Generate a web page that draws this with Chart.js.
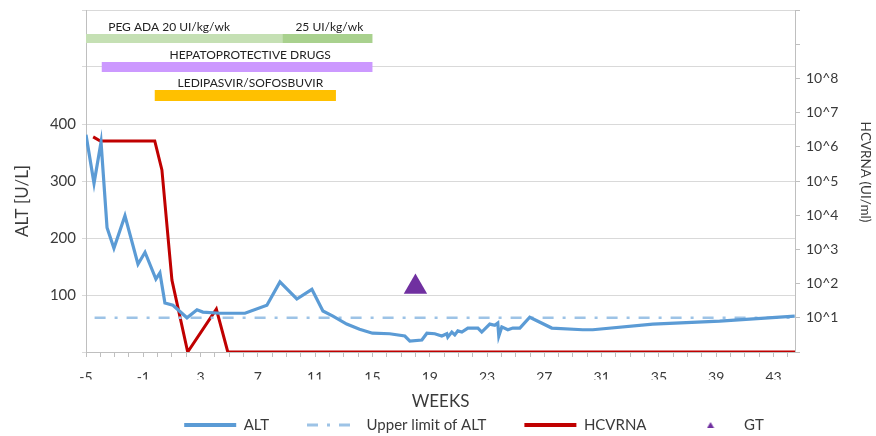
<!DOCTYPE html>
<html>
<head>
<meta charset="utf-8">
<script src="https://cdn.jsdelivr.net/npm/chart.js@4.4.1/dist/chart.umd.min.js"></script>
<style>
  html, body { margin: 0; padding: 0; background: #fff; }
  #wrap { width: 876px; height: 436px; }
</style>
</head>
<body>
<div id="wrap"><canvas id="chart" width="876" height="436"></canvas></div>
<script>
// ALT [U/L] by week
const altWeeks = [-5, -4.44, -3.95, -3.53, -3.05, -2.28, -1.37, -0.88, -0.12, 0.16, 0.51, 1.07, 2.05, 2.75,
  3.16, 4.35, 6.1, 7.63, 8.54, 9.72, 10.77, 11.54, 12.24, 13.2, 14.1, 15.0, 16.2, 17.26, 17.61, 18.45,
  18.8, 19.35, 19.84, 20.19, 20.26, 20.54, 20.75, 20.96, 21.24, 21.66, 22.36, 22.63, 23.19, 23.54, 23.75,
  23.82, 24.03, 24.45, 24.8, 25.29, 25.98, 27.52, 29.68, 30.38, 34.57, 39.24, 44.48];
const altValues = [381, 296, 368, 218, 182, 239, 154, 175, 128, 139, 86, 82, 60, 74,
  70, 68, 68, 82, 123, 93, 110, 72, 63, 49, 40, 33, 32, 28, 19, 21,
  33, 32, 28, 32, 26, 35, 30, 37, 35, 42, 42, 35, 49, 47, 51,
  28, 44, 39, 42, 42, 61, 42, 39, 39, 49, 54, 63];

// upper limit of ALT
const limitWeeks = [-4.4, 44.5];
const limitValues = [60, 60];

// HCV RNA (UI/ml)
const rnaWeeks = [-4.5, -4.0, -0.2, 0.3, 1.0, 2.1, 4.1, 4.9, 44.5];
const rnaValues = [1.95e6, 1.48e6, 1.48e6, 2.1e5, 126, 1, 18, 1, 1];

// GT
const gtWeeks = [18];
const gtValues = [80];

// therapies (start / end week)
const therapyNames = ['PEG ADA 20 UI/kg/wk', '25 UI/kg/wk', 'HEPATOPROTECTIVE DRUGS', 'LEDIPASVIR/SOFOSBUVIR'];
const therapyStart = [-5, 8.7, -3.9, -0.2];
const therapyEnd = [8.7, 15, 15, 12.45];

const xTickLabels = [-5, -1, 3, 7, 11, 15, 19, 23, 27, 31, 35, 39, 43];
const altTickLabels = ['', '100', '200', '300', '400', '', ''];
const rnaTickLabels = ['', '10^1', '10^2', '10^3', '10^4', '10^5', '10^6', '10^7', '10^8', '', ''];

const FONT = 'Lato, "Open Sans", sans-serif';
const TEXT = '#3a3a3a';
const AXIS = '#bfbfbf';

const zip = (xs, ys) => xs.map((x, i) => ({ x: x, y: ys[i] }));

// therapy bars drawn as thick lines on the ALT scale
const therapyColors = ['#c5e0b4', '#a9d18e', '#cc99ff', '#ffc000'];
const therapyLevel = [550, 550, 500, 450];
const therapyWidth = [9, 9, 10, 11];
const therapyLabelShift = [-15, 2, 13, 5];

// small triangle for the legend
const gtIcon = document.createElement('canvas');
gtIcon.width = 8; gtIcon.height = 8;
(function () {
    const c = gtIcon.getContext('2d');
    c.fillStyle = '#7030a0';
    c.beginPath();
    c.moveTo(4, 1); c.lineTo(7.5, 7); c.lineTo(0.5, 7);
    c.closePath(); c.fill();
})();

const datasets = [
    {
        label: 'ALT', data: zip(altWeeks, altValues), yAxisID: 'y',
        borderColor: '#5b9bd5', backgroundColor: '#5b9bd5', borderWidth: 3.2,
        pointRadius: 0, tension: 0, legendLine: 4
    },
    {
        label: 'Upper limit of ALT', data: zip(limitWeeks, limitValues), yAxisID: 'y',
        borderColor: '#9dc3e6', backgroundColor: '#9dc3e6', borderWidth: 2.5,
        borderDash: [11, 9, 3, 9], pointRadius: 0, legendLine: 3
    },
    {
        label: 'HCVRNA', data: zip(rnaWeeks, rnaValues), yAxisID: 'y1',
        borderColor: '#c00000', backgroundColor: '#c00000', borderWidth: 3,
        pointRadius: 0, tension: 0, legendLine: 4
    },
    {
        label: 'GT', data: zip(gtWeeks, gtValues), yAxisID: 'y1',
        showLine: false, pointStyle: 'triangle', pointRadius: 13.5, pointHoverRadius: 13.5,
        backgroundColor: '#7030a0', borderColor: '#7030a0', borderWidth: 0
    }
];

therapyNames.forEach((name, i) => {
    datasets.push({
        label: name,
        therapy: true,
        data: [{ x: therapyStart[i], y: therapyLevel[i] }, { x: therapyEnd[i], y: therapyLevel[i] }],
        yAxisID: 'y',
        borderColor: therapyColors[i],
        borderWidth: therapyWidth[i],
        borderCapStyle: 'butt',
        pointRadius: 0,
        order: 10
    });
});

const extras = {
    id: 'extras',
    afterLayout(chart) {
        // legend sits a bit right of centre in the original
        chart.legend.left += 36;
        chart.legend.right += 36;
    },
    afterDatasetsDraw(chart) {
        const ctx = chart.ctx;
        const area = chart.chartArea;
        ctx.save();
        ctx.font = '12px ' + FONT;
        ctx.fillStyle = '#222';
        ctx.textAlign = 'center';
        ctx.textBaseline = 'bottom';
        chart.data.datasets.forEach((ds, di) => {
            if (!ds.therapy) return;
            const i = therapyNames.indexOf(ds.label);
            const pts = chart.getDatasetMeta(di).data;
            const cx = (pts[0].x + pts[1].x) / 2 + therapyLabelShift[i];
            ctx.fillText(ds.label, cx, pts[0].y - ds.borderWidth / 2 - 1);
        });

        // axis titles, a little off-centre like the original
        ctx.fillStyle = TEXT;
        ctx.textBaseline = 'middle';
        ctx.font = '17px ' + FONT;
        ctx.save();
        ctx.translate(area.left - 63, area.top + 191);
        ctx.rotate(-Math.PI / 2);
        ctx.fillText('ALT [U/L]', 0, 0);
        ctx.restore();
        ctx.font = '13.5px ' + FONT;
        ctx.translate(area.right + 70, area.top + 162);
        ctx.rotate(Math.PI / 2);
        ctx.fillText('HCVRNA (UI/ml)', 0, 0);
        ctx.restore();
    }
};

// vertical axes: fixed width, no extra room for half labels
const fixWidth = w => axis => {
    axis.width = w;
    axis.paddingTop = 0;
    axis.paddingBottom = 0;
};

new Chart(document.getElementById('chart'), {
    type: 'line',
    data: { datasets: datasets },
    plugins: [extras],
    options: {
        responsive: false,
        animation: false,
        devicePixelRatio: 1,
        layout: { autoPadding: false, padding: { top: 10, left: 0, right: 0, bottom: -6.5 } },
        plugins: {
            tooltip: { enabled: false },
            legend: {
                position: 'bottom',
                labels: {
                    usePointStyle: true,
                    pointStyleWidth: 52,
                    boxHeight: 8,
                    padding: 38,
                    color: TEXT,
                    font: { family: FONT, size: 15 },
                    generateLabels: chart => chart.data.datasets.filter(ds => !ds.therapy).map((ds, i) => ({
                        text: ds.label,
                        datasetIndex: i,
                        fillStyle: ds.backgroundColor,
                        strokeStyle: ds.borderColor,
                        lineWidth: ds.legendLine || 0,
                        lineDash: ds.borderDash || [],
                        pointStyle: ds.label === 'GT' ? gtIcon : 'line',
                        fontColor: TEXT,
                        hidden: false
                    }))
                }
            }
        },
        scales: {
            x: {
                type: 'linear',
                min: -5,
                max: 44.5,
                afterBuildTicks: axis => {
                    const t = [];
                    for (let w = -5; w <= 44; w++) t.push({ value: w });
                    axis.ticks = t;
                },
                afterFit: axis => { axis.height = 27.5; },
                ticks: {
                    autoSkip: false,
                    maxRotation: 0,
                    padding: 12,
                    color: TEXT,
                    font: { family: FONT, size: 14 },
                    callback: v => xTickLabels.includes(v) ? String(v) : ''
                },
                grid: { drawOnChartArea: false, color: AXIS, tickLength: 5 },
                border: { color: AXIS },
                title: {
                    display: true, text: 'WEEKS', color: TEXT,
                    font: { family: FONT, size: 17 }, padding: { top: 0, bottom: -32.5 }
                }
            },
            y: {
                position: 'left',
                min: 0,
                max: 600,
                afterFit: fixWidth(86),
                ticks: {
                    stepSize: 100,
                    padding: 6,
                    color: TEXT,
                    font: { family: FONT, size: 15 },
                    callback: (v, i) => altTickLabels[i]
                },
                grid: { color: '#d9d9d9', tickLength: 4 },
                border: { color: AXIS }
            },
            y1: {
                type: 'logarithmic',
                position: 'right',
                min: 1,
                max: 1e10,
                afterBuildTicks: axis => {
                    const t = [];
                    for (let e = 0; e <= 10; e++) t.push({ value: Math.pow(10, e) });
                    axis.ticks = t;
                },
                afterFit: fixWidth(81),
                ticks: {
                    padding: 6,
                    color: TEXT,
                    font: { family: FONT, size: 14 },
                    callback: (v, i) => rnaTickLabels[i]
                },
                grid: { drawOnChartArea: false, color: AXIS, tickLength: 5 },
                border: { color: AXIS }
            }
        }
    }
});
</script>
</body>
</html>
